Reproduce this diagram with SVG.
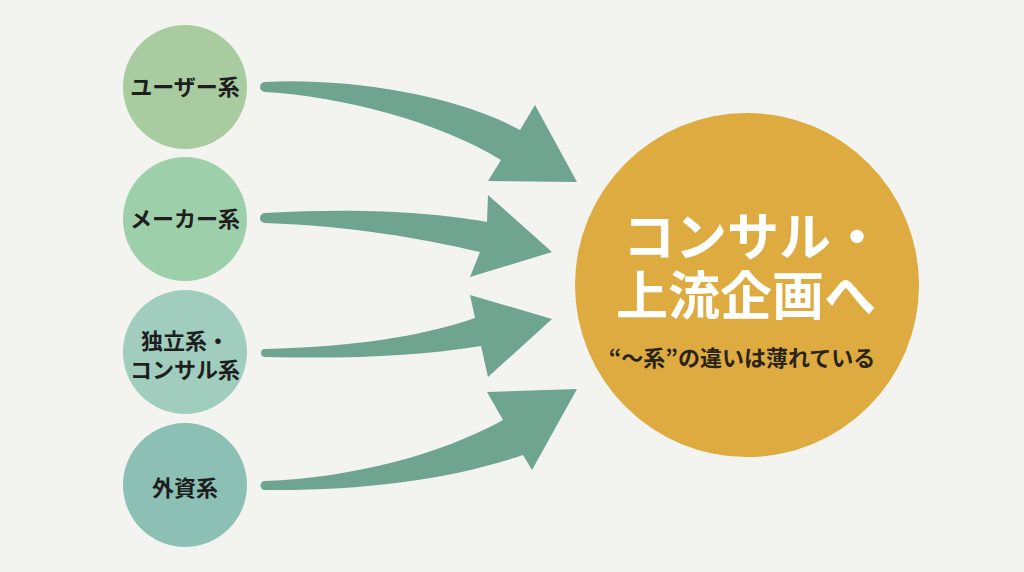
<svg xmlns="http://www.w3.org/2000/svg" width="1024" height="572" viewBox="0 0 1024 572">
  <style>
    .lbl { font-family: "Noto Sans CJK JP", "Noto Sans", sans-serif; font-weight: 700; font-size: 22px; fill: #1e1e1e; text-anchor: middle; }
    .big { font-family: "Noto Sans CJK JP", "Noto Sans", sans-serif; font-weight: 700; font-size: 52px; fill: #ffffff; text-anchor: middle; }
    .sub { font-family: "Noto Sans CJK JP", "Noto Sans", sans-serif; font-weight: 700; font-size: 22px; fill: #2a2418; text-anchor: middle; }
    .arrow { fill: #6fa590; }
  </style>
  <rect width="1024" height="572" fill="#f3f3ef"/>

  <g id="connectors">
    <path class="arrow" d="M265,82 C340,78 450,92 520,130 L535,105 L577,182 L488,181 L501,160 C440,122 340,96 265,92 A5,5 0 0 1 265,82 Z"/>
    <path class="arrow" d="M265,213 C360,208 430,212 487,222 L488,195 L552,252 L470,277 L480,252 C420,238 350,226 265,223 A5,5 0 0 1 265,213 Z"/>
    <path class="arrow" d="M265,349 C350,347 420,337 475,318 L470,295 L552,319 L488,377 L481,346 C420,356 350,359 265,357 A4,4 0 0 1 265,349 Z"/>
    <path class="arrow" d="M265,481 C350,478 440,455 503,420 L487,392 L577,389 L532,470 L523,455 C450,480 360,491 265,490 A4.5,4.5 0 0 1 265,481 Z"/>
  </g>

  <g id="node-user">
    <circle cx="185" cy="87" r="62" fill="#a8cb9f"/>
    <text class="lbl" x="185" y="95">ユーザー系</text>
  </g>
  <g id="node-maker">
    <circle cx="185" cy="219" r="62" fill="#9dcfab"/>
    <text class="lbl" x="185" y="227">メーカー系</text>
  </g>
  <g id="node-indep">
    <circle cx="185" cy="352" r="62" fill="#a0cdbd"/>
    <text class="lbl" x="185" y="349">独立系・</text>
    <text class="lbl" x="185" y="378">コンサル系</text>
  </g>
  <g id="node-foreign">
    <circle cx="185" cy="485" r="62" fill="#8cc0b5"/>
    <text class="lbl" x="185" y="496">外資系</text>
  </g>

  <g id="node-target">
    <circle cx="747" cy="285" r="172" fill="#deab40"/>
    <text class="big" x="753" y="256">コンサル・</text>
    <text class="big" x="746" y="315">上流企画へ</text>
    <text class="sub" x="742" y="366">“〜系”の違いは薄れている</text>
  </g>
</svg>
